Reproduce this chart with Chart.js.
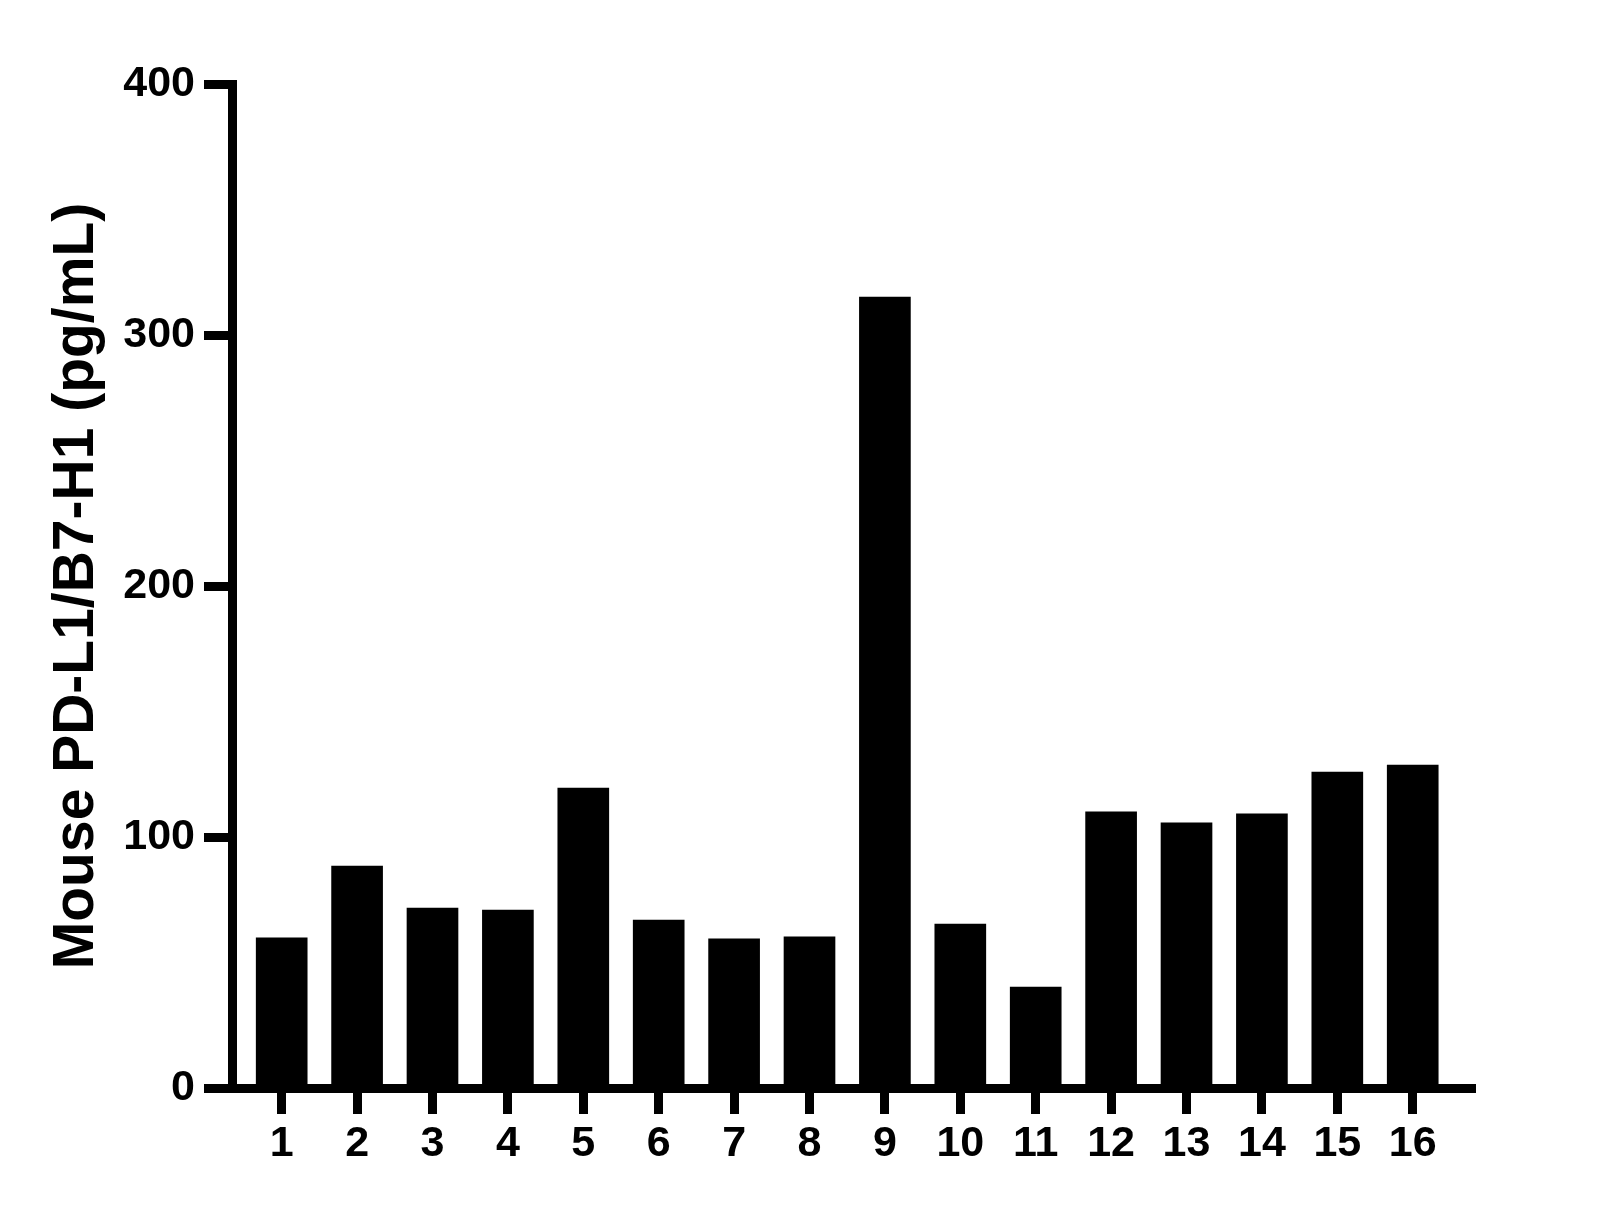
<!DOCTYPE html>
<html>
<head>
<meta charset="utf-8">
<script src="https://cdn.jsdelivr.net/npm/chart.js@4/dist/chart.umd.min.js"></script>
<style>
  html, body { margin: 0; padding: 0; background: #fff; }
  #wrap { width: 1609px; height: 1208px; position: relative; }
</style>
</head>
<body>
<div id="wrap"><canvas id="grafico"></canvas></div>
<script>
const muestras = [1, 2, 3, 4, 5, 6, 7, 8, 9, 10, 11, 12, 13, 14, 15, 16];
const valores = [59.8, 88.4, 71.7, 70.9, 119.5, 66.9, 59.4, 60.2, 315.1, 65.3, 40.2, 110, 105.6, 109.2, 125.9, 128.7];
const ticksY = [0, 100, 200, 300, 400];
const tituloY = 'Mouse PD-L1/B7-H1 (pg/mL)';

const fuente = 'Liberation Sans, Arial, Helvetica, sans-serif';

const ctx = document.getElementById('grafico').getContext('2d');

new Chart(ctx, {
  type: 'bar',
  data: {
    datasets: [{
      data: muestras.map((m, i) => ({ x: m, y: valores[i] })),
      backgroundColor: '#000',
      borderWidth: 0,
      barThickness: 51
    }]
  },
  options: {
    responsive: true,
    maintainAspectRatio: false,
    animation: false,
    devicePixelRatio: 1,
    layout: { padding: { left: 43, top: 84, right: 134, bottom: 0 } },
    plugins: { legend: { display: false }, tooltip: { enabled: false } },
    scales: {
      x: {
        type: 'linear',
        offset: false,
        min: 0.341,
        max: 16.826,
        afterBuildTicks: (scale) => { scale.ticks = muestras.map(v => ({ value: v })); },
        afterFit: (scale) => { scale.height = 120; },
        border: { display: true, color: '#000', width: 9 },
        grid: { offset: false, drawOnChartArea: false, drawTicks: true, tickLength: 26, tickWidth: 9, tickColor: '#000' },
        ticks: {
          color: '#000',
          padding: 4,
          maxRotation: 0,
          autoSkip: false,
          font: { family: fuente, size: 43, weight: 'bold' },
          callback: (v) => String(v)
        }
      },
      y: {
        min: 0,
        max: 400,
        afterBuildTicks: (scale) => { scale.ticks = ticksY.map(v => ({ value: v })); },
        afterFit: (scale) => { scale.width = 189; },
        border: { display: true, color: '#000', width: 9 },
        grid: { drawOnChartArea: false, drawTicks: true, tickLength: 28, tickWidth: 9, tickColor: '#000' },
        ticks: {
          color: '#000',
          padding: 9,
          font: { family: fuente, size: 43, weight: 'bold' }
        },
        title: {
          display: true,
          text: tituloY,
          color: '#000',
          padding: { top: 0, bottom: 0 },
          font: { family: fuente, size: 57, weight: 'bold' }
        }
      }
    }
  }
});
</script>
</body>
</html>
